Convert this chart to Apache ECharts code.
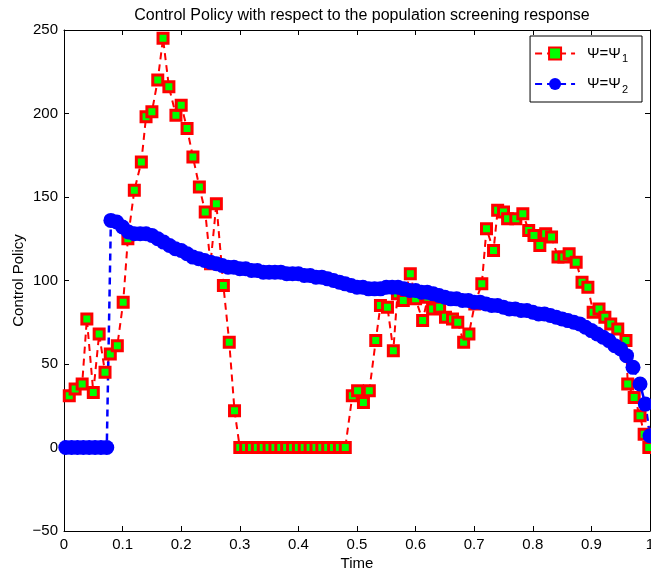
<!DOCTYPE html>
<html>
<head>
<meta charset="utf-8">
<script src="https://cdn.jsdelivr.net/npm/echarts@6/dist/echarts.min.js"></script>
<style>
  html, body { margin: 0; padding: 0; background: #fff; }
  #chart { width: 651px; height: 574px; }
</style>
</head>
<body>
<div id="chart"></div>
<script>
// values
const redTime = [0.009, 0.019, 0.031, 0.039, 0.050, 0.060, 0.070, 0.079, 0.091, 0.101,
    0.109, 0.120, 0.132, 0.140, 0.150, 0.160, 0.169, 0.179, 0.191, 0.200,
    0.210, 0.220, 0.231, 0.241, 0.250, 0.260, 0.272, 0.282, 0.291,
    0.30, 0.31, 0.32, 0.33, 0.34, 0.35, 0.36, 0.37, 0.38, 0.39, 0.40, 0.41, 0.42, 0.43, 0.44, 0.45, 0.46, 0.47, 0.48,
    0.492, 0.501, 0.511, 0.521, 0.532, 0.540, 0.552, 0.562, 0.569, 0.579,
    0.591, 0.600, 0.612, 0.621, 0.629, 0.641, 0.651, 0.663, 0.672, 0.682,
    0.691, 0.701, 0.713, 0.721, 0.733, 0.740, 0.750, 0.757, 0.771, 0.783,
    0.793, 0.802, 0.812, 0.822, 0.832, 0.843, 0.853, 0.862, 0.874, 0.884,
    0.894, 0.903, 0.913, 0.923, 0.933, 0.945, 0.959, 0.962, 0.973, 0.983,
    0.990, 0.998];
const redValue = [31, 35, 38, 77, 33, 68, 45, 56, 61, 87,
    125, 154, 171, 198, 201, 220, 245, 216, 199, 205,
    191, 174, 156, 141, 110, 146, 97, 63, 22,
    0, 0, 0, 0, 0, 0, 0, 0, 0, 0, 0, 0, 0, 0, 0, 0, 0, 0, 0,
    31, 34, 27, 34, 64, 85, 84, 58, 92, 88,
    104, 89, 76, 90, 83, 84, 78, 77, 75, 63,
    68, 86, 98, 131, 118, 142, 141, 137, 137, 140,
    130, 127, 121, 128, 126, 114, 114, 116, 111, 99,
    96, 81, 83, 78, 74, 71, 64, 38, 30, 19,
    8, 0];

const blueTime = [0.003, 0.013, 0.023, 0.033, 0.043, 0.053, 0.063, 0.073,
    0.08, 0.09, 0.10, 0.11, 0.12, 0.13, 0.14, 0.15, 0.16, 0.17, 0.18, 0.19,
    0.20, 0.21, 0.22, 0.23, 0.24, 0.25, 0.26, 0.27, 0.28, 0.29,
    0.30, 0.31, 0.32, 0.33, 0.34, 0.35, 0.36, 0.37, 0.38, 0.39,
    0.40, 0.41, 0.42, 0.43, 0.44, 0.45, 0.46, 0.47, 0.48, 0.49,
    0.50, 0.51, 0.52, 0.53, 0.54, 0.55, 0.56, 0.57, 0.58, 0.59,
    0.60, 0.61, 0.62, 0.63, 0.64, 0.65, 0.66, 0.67, 0.68, 0.69,
    0.70, 0.71, 0.72, 0.73, 0.74, 0.75, 0.76, 0.77, 0.78, 0.79,
    0.80, 0.81, 0.82, 0.83, 0.84, 0.85, 0.86, 0.87, 0.88, 0.89,
    0.90, 0.91, 0.92, 0.93, 0.94, 0.95, 0.96, 0.971, 0.983, 0.992, 1.0];
const blueValue = [0, 0, 0, 0, 0, 0, 0, 0,
    136, 135, 132, 129, 128, 128, 128, 127, 125, 123, 121, 119,
    118, 116, 114, 113, 112, 111, 110, 109, 108, 108,
    107, 107, 106, 106, 105, 105, 105, 105, 104, 104,
    104, 103, 103, 102, 102, 101, 100, 99, 98, 97,
    96, 96, 95, 95, 95, 96, 96, 96, 95, 94,
    94, 93, 93, 92, 91, 90, 89, 89, 88, 88,
    87, 87, 86, 85, 85, 84, 83, 83, 82, 82,
    81, 80, 80, 79, 78, 77, 76, 75, 74, 72,
    70, 68, 66, 64, 61, 59, 55, 48, 38, 26, 7];

const psi1 = 'Ψ=Ψ1';
const psi2 = 'Ψ=Ψ2';
const titleText = 'Control Policy with respect to the population screening response';

const font = '"Liberation Sans", Arial, Helvetica, sans-serif';

const zip = (xs, ys) => xs.map((x, i) => [x, ys[i]]);

let chart = echarts.init(document.getElementById('chart'), null, {renderer: 'canvas'});

// shared axis look (MATLAB style box, ticks inside)
const xBase = {
    type: 'value', min: 0, max: 1, interval: 0.1,
    axisLine: {show: true, onZero: false, lineStyle: {color: '#000', width: 1}},
    axisTick: {show: true, inside: true, length: 5, lineStyle: {color: '#000'}},
    splitLine: {show: false}
};
const yBase = {
    type: 'value', min: -50, max: 250, interval: 50,
    axisLine: {show: true, onZero: false, lineStyle: {color: '#000', width: 1}},
    axisTick: {show: true, inside: true, length: 5, lineStyle: {color: '#000'}},
    splitLine: {show: false}
};

chart.setOption({
    animation: false,
    backgroundColor: '#fff',
    textStyle: {fontFamily: font},
    title: {
        text: titleText,
        left: 357, textAlign: 'center',
        top: 3,
        textStyle: {fontSize: 16, fontWeight: 'normal', color: '#000', fontFamily: font}
    },
    grid: {left: 64, right: 1, top: 30, bottom: 43, outerBoundsMode: 'none'},
    legend: {
        orient: 'vertical',
        right: 9, top: 36,
        backgroundColor: '#fff',
        borderColor: '#000', borderWidth: 1, borderRadius: 0,
        padding: [10, 14, 7, 4],
        itemGap: 12,
        itemWidth: 40, itemHeight: 15,
        data: [psi1, psi2],
        formatter: name => name === psi1 ? '{m|Ψ=Ψ}{s|1}' : '{m|Ψ=Ψ}{s|2}',
        textStyle: {
            color: '#000', fontFamily: font,
            rich: {
                m: {fontSize: 15, color: '#000', fontFamily: font, padding: [0, 0, 0, 7]},
                s: {fontSize: 11, color: '#000', fontFamily: font, padding: [11, 0, 0, 1]}
            }
        }
    },
    xAxis: [
        Object.assign({}, xBase, {
            position: 'bottom',
            name: 'Time', nameLocation: 'middle', nameGap: 25, nameMoveOverlap: false,
            nameTextStyle: {fontSize: 15, color: '#000', fontFamily: font},
            axisLabel: {fontSize: 15, color: '#000', margin: 6, fontFamily: font}
        }),
        Object.assign({}, xBase, {position: 'top', axisLabel: {show: false}})
    ],
    yAxis: [
        Object.assign({}, yBase, {
            position: 'left',
            name: 'Control Policy', nameLocation: 'middle', nameGap: 38, nameMoveOverlap: false,
            nameTextStyle: {fontSize: 15, color: '#000', fontFamily: font},
            axisLabel: {
                fontSize: 15, color: '#000', margin: 6, fontFamily: font,
                formatter: v => v < 0 ? '\u2212' + Math.abs(v) : String(v)
            }
        }),
        Object.assign({}, yBase, {position: 'right', axisLabel: {show: false}})
    ],
    series: [
        {
            name: psi1,
            type: 'line',
            data: zip(redTime, redValue),
            clip: false,
            symbol: 'rect',
            symbolSize: 10,
            showAllSymbol: true,
            lineStyle: {color: '#ff0000', width: 2, type: [7, 5]},
            itemStyle: {color: '#00ff00', borderColor: '#ff0000', borderWidth: 3}
        },
        {
            name: psi2,
            type: 'line',
            data: zip(blueTime, blueValue),
            clip: false,
            symbol: 'circle',
            symbolSize: 15,
            showAllSymbol: true,
            lineStyle: {color: '#0000ff', width: 2.5, type: [7, 5]},
            itemStyle: {color: '#0000ff', borderWidth: 0}
        }
    ]
});
</script>
</body>
</html>
